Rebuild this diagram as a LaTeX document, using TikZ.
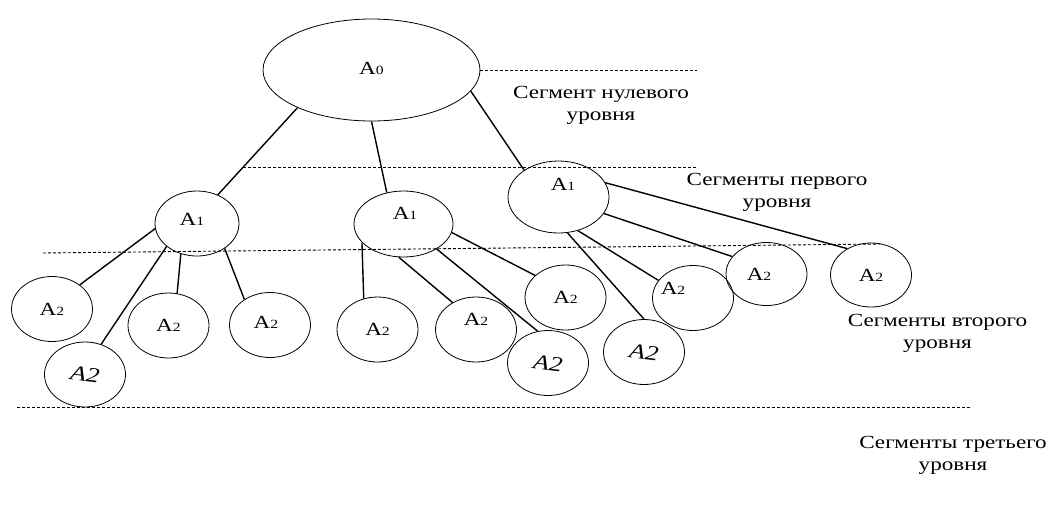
\documentclass[tikz,border=0pt]{standalone}
\usepackage{fontspec}
\setmainfont{Liberation Serif}[FakeStretch=1.25]
\usetikzlibrary{shapes.geometric}
% shifted content inside a node: #1 = twice the x shift, #2 = raise of the baseline, #3 = text
\newcommand\shifted[3]{\makebox[0pt]{\hspace*{#1}\raisebox{#2}[0pt][0pt]{#3}}}
\newcommand\segname[1]{A{\fontsize{12.5}{12.5}\selectfont #1}}
\newcommand\segit{\rotatebox{-7}{\itshape\fontsize{21}{21}\selectfont A2}}
\begin{document}
\begin{tikzpicture}[x=1pt,y=-1pt,
  seg/.style={draw, ellipse, inner sep=0pt, line width=0.8pt,
    font=\fontsize{18.5}{18.5}\selectfont},
  leaf/.style={seg, minimum width=81pt, minimum height=65pt},
  link/.style={line width=1.4pt},
  levelline/.style={dash pattern=on 3pt off 2pt, line width=0.9pt},
  lbl/.style={align=center, font=\fontsize{18.5}{22}\selectfont}]
\useasboundingbox (0,0) rectangle (1048,515);

% root segment
\node[seg, minimum width=217pt, minimum height=102pt] (a0) at (371.5,70)
  {\shifted{0pt}{-4pt}{\segname{0}}};

% first level
\node[seg, minimum width=84pt, minimum height=65pt] (b1) at (197,223.5)
  {\shifted{-10pt}{-1.5pt}{\segname{1}}};
\node[seg, minimum width=99pt, minimum height=66pt] (b2) at (403.5,224)
  {\shifted{3pt}{5pt}{\segname{1}}};
\node[seg, minimum width=101pt, minimum height=72pt] (b3) at (558.5,197)
  {\shifted{9pt}{7pt}{\segname{1}}};

% second level
\node[leaf] (c1) at (52,309) {\segname{2}};
\node[leaf] (c2) at (85,374.5) {\segit};
\node[leaf] (c3) at (168.5,325.5) {\segname{2}};
\node[leaf] (c4) at (270,325) {\shifted{-8pt}{-3pt}{\segname{2}}};
\node[leaf] (c5) at (377.5,329.5) {\segname{2}};
\node[leaf] (c6) at (476,329.5) {\shifted{0pt}{4pt}{\segname{2}}};
\node[leaf] (c7) at (548,363) {\segit};
\node[leaf] (c8) at (565.5,297.5) {\segname{2}};
\node[leaf] (c9) at (644,352) {\segit};
\node[leaf] (c10) at (693,298) {\shifted{-40pt}{4pt}{\segname{2}}};
\node[leaf, minimum height=63pt] (c11) at (766.5,274) {\shifted{-15pt}{-6pt}{\segname{2}}};
\node[leaf, minimum height=64pt] (c12) at (871,275) {\segname{2}};

% links
\draw[link] (a0.-153) -- (b1.54);
\draw[link] (a0.-90) -- (b2.118);
\draw[link] (a0.-12) -- (b3.142);

\draw[link] (b1.-173) -- (c1.41);
\draw[link] (b1.-143) -- (c2.62);
\draw[link] (b1.-118) -- (c3.75);
\draw[link] (b1.-42) -- (c4.135);

\draw[link] (b2.-156) -- (c5.114);
\draw[link] (b2.-98) -- (c6.131);
\draw[link] (b2.-37) -- (c7.108);
\draw[link] (b2.-10) -- (c8.144);

\draw[link] (b3.-76) -- (c9.90);
\draw[link] (b3.-60) -- (c10.153);
\draw[link] (b3.-20) -- (c11.153);
\draw[link] (b3.17) -- (c12.132);

% level separators
\draw[levelline] (a0.east) -- ++(217,0);
\draw[levelline] (243,167) -- (697,167);
\draw[levelline] (43,253) -- (880,244);
\draw[levelline] (17,407) -- (972,407);

% level captions
\node[lbl] (t0) at (601,105.5) {Сегмент нулевого\\уровня};
\node[lbl] (t1) at (777,192) {Сегменты первого\\уровня};
\node[lbl] (t2) at (937.5,333) {Сегменты второго\\уровня};
\node[lbl] (t3) at (953,455) {Сегменты третьего\\уровня};
\end{tikzpicture}
\end{document}
